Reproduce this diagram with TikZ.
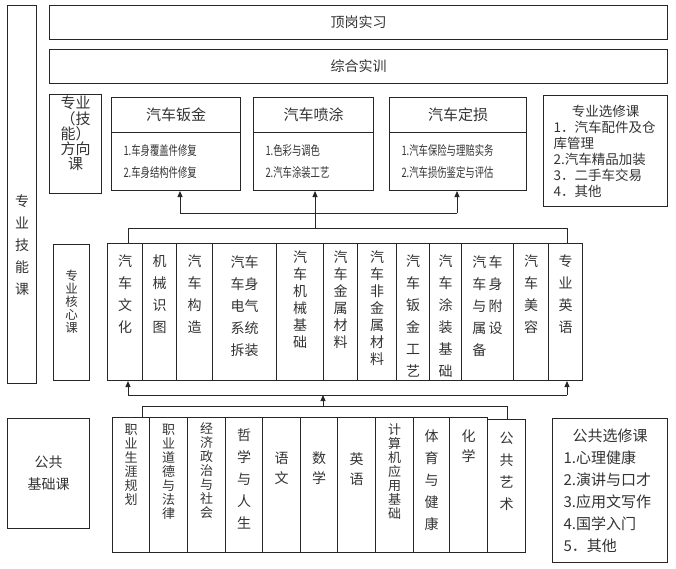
\documentclass[tikz,border=0pt]{standalone}
\usepackage{fontspec}
\setmainfont{Noto Sans CJK SC}
\newfontfamily\narrowfont{Noto Sans CJK SC}[FakeStretch=0.72]
\usetikzlibrary{arrows.meta}

\begin{document}
\begin{tikzpicture}[x=1pt, y=-1pt,
    blk/.style={draw=black!85, line width=1pt, anchor=north west, inner sep=0pt, text=black!80},
    vlbl/.style={anchor=north, inner sep=0pt, align=center, text=black!80},
    vwide/.style={vlbl, font=\fontsize{14pt}{22pt}\selectfont},
    vtwenty/.style={vlbl, font=\fontsize{14pt}{20pt}\selectfont},
    vmid/.style={vlbl, font=\fontsize{14pt}{17pt}\selectfont},
    vtight/.style={vlbl, font=\fontsize{13pt}{14pt}\selectfont},
    link/.style={draw=black!85, line width=1pt},
    arr/.style={link, -{Triangle[length=6pt,width=5pt]}}]
    \useasboundingbox (0,0) rectangle (676,568);

    % left side and top rows
    \node[blk, minimum width=29pt, minimum height=378pt, label={[vwide, yshift=-190pt]north:专\\业\\技\\能\\课}] (skill) at (7,5) {};
    \node[blk, minimum width=618pt, minimum height=34pt, font=\fontsize{14pt}{16pt}\selectfont] (intern) at (49,5) {顶岗实习};
    \node[blk, minimum width=618pt, minimum height=34pt, font=\fontsize{14pt}{16pt}\selectfont] (train) at (49,49) {综合实训};

    % direction courses
    \node[blk, minimum width=52pt, minimum height=99pt, label={[vlbl, font=\fontsize{15pt}{15.25pt}\selectfont, yshift=-2pt]north:专业\\（技\\能）\\方向\\课}] (dirc) at (49,94) {};
    \node[blk, minimum width=129pt, minimum height=35pt, font=\fontsize{15pt}{17pt}\selectfont] (bjh) at (111,97) {汽车钣金};
    \node[blk, minimum height=58pt, text width=105pt, inner xsep=12pt, align=left, font=\narrowfont\fontsize{13pt}{22pt}\selectfont] (bjb) at (111,132) {1.车身覆盖件修复\\2.车身结构件修复};
    \node[blk, minimum width=120pt, minimum height=35pt, font=\fontsize{15pt}{17pt}\selectfont] (pth) at (253,97) {汽车喷涂};
    \node[blk, minimum height=58pt, text width=96pt, inner xsep=12pt, align=left, font=\narrowfont\fontsize{13pt}{22pt}\selectfont] (ptb) at (253,132) {1.色彩与调色\\2.汽车涂装工艺};
    \node[blk, minimum width=137pt, minimum height=35pt, font=\fontsize{15pt}{17pt}\selectfont] (dsh) at (389,97) {汽车定损};
    \node[blk, minimum height=58pt, text width=113pt, inner xsep=12pt, align=left, font=\narrowfont\fontsize{13pt}{22pt}\selectfont] (dsb) at (389,132) {1.汽车保险与理赔实务\\2.汽车损伤鉴定与评估};
    \node[blk, minimum height=111pt, text width=104pt, inner xsep=10pt, align=left, font=\fontsize{13.5pt}{16pt}\selectfont] (proel) at (543,95) {\hfill{}专业选修课\hfill\null\\1．汽车配件及仓\\库管理\\2.汽车精品加装\\3．二手车交易\\4．其他};

    % core courses
    \node[blk, minimum width=36pt, minimum height=136pt, label={[vlbl, font=\fontsize{12.5pt}{13pt}\selectfont, yshift=-26pt]north:专\\业\\核\\心\\课}] (core) at (53,244) {};
    \node[blk, minimum width=35pt, minimum height=137pt, label={[vwide, yshift=-12pt]north:汽\\车\\文\\化}] (c1) at (107,243) {};
    \node[blk, minimum width=34pt, minimum height=137pt, label={[vwide, yshift=-12pt]north:机\\械\\识\\图}] (c2) at (142,243) {};
    \node[blk, minimum width=36pt, minimum height=137pt, label={[vwide, yshift=-12pt]north:汽\\车\\构\\造}] (c3) at (176,243) {};
    \node[blk, minimum width=64pt, minimum height=137pt, label={[vwide, yshift=-12pt]north:汽车\\车身\\电气\\系统\\拆装}] (c4) at (212,243) {};
    \node[blk, minimum width=47pt, minimum height=137pt, label={[vmid, yshift=-8pt]north:汽\\车\\机\\械\\基\\础}] (c5) at (276,243) {};
    \node[blk, minimum width=34pt, minimum height=137pt, label={[vmid, yshift=-8pt]north:汽\\车\\金\\属\\材\\料}] (c6) at (323,243) {};
    \node[blk, minimum width=39pt, minimum height=137pt, label={[vmid, yshift=-8pt]north:汽\\车\\非\\金\\属\\材\\料}] (c7) at (357,243) {};
    \node[blk, minimum width=33pt, minimum height=137pt, label={[vwide, yshift=-12pt]north:汽\\车\\钣\\金\\工\\艺}] (c8) at (396,243) {};
    \node[blk, minimum width=32pt, minimum height=137pt, label={[vwide, yshift=-12pt]north:汽\\车\\涂\\装\\基\\础}] (c9) at (429,243) {};
    \node[blk, minimum width=52pt, minimum height=137pt, label={[vwide, align=left, yshift=-12pt]north:汽\,车\\车\,身\\与\,附\\属\,设\\备}] (c10) at (461,243) {};
    \node[blk, minimum width=35pt, minimum height=137pt, label={[vwide, yshift=-12pt]north:汽\\车\\美\\容}] (c11) at (513,243) {};
    \node[blk, minimum width=34pt, minimum height=137pt, label={[vwide, yshift=-12pt]north:专\\业\\英\\语}] (c12) at (548,243) {};

    % public courses
    \node[blk, minimum width=82pt, minimum height=110pt, align=center, font=\fontsize{14pt}{22pt}\selectfont] (pub) at (7,418) {公共\\基础课};
    \node[blk, minimum width=37pt, minimum height=135pt, label={[vtight, yshift=-6.5pt]north:职\\业\\生\\涯\\规\\划}] (p1) at (112,417) {};
    \node[blk, minimum width=38pt, minimum height=135pt, label={[vtight, yshift=-6.5pt]north:职\\业\\道\\德\\与\\法\\律}] (p2) at (149,417) {};
    \node[blk, minimum width=38pt, minimum height=135pt, label={[vtight, yshift=-5pt]north:经\\济\\政\\治\\与\\社\\会}] (p3) at (187,417) {};
    \node[blk, minimum width=37pt, minimum height=135pt, label={[vwide, yshift=-12pt]north:哲\\学\\与\\人\\生}] (p4) at (225,417) {};
    \node[blk, minimum width=38pt, minimum height=135pt, label={[vtwenty, yshift=-35pt]north:语\\文}] (p5) at (262,417) {};
    \node[blk, minimum width=37pt, minimum height=135pt, label={[vtwenty, yshift=-35pt]north:数\\学}] (p6) at (300,417) {};
    \node[blk, minimum width=38pt, minimum height=135pt, label={[vtwenty, yshift=-36pt]north:英\\语}] (p7) at (337,417) {};
    \node[blk, minimum width=38pt, minimum height=135pt, label={[vtight, yshift=-6.5pt]north:计\\算\\机\\应\\用\\基\\础}] (p8) at (375,417) {};
    \node[blk, minimum width=36pt, minimum height=135pt, label={[vwide, yshift=-13pt]north:体\\育\\与\\健\\康}] (p9) at (413,417) {};
    \node[blk, minimum width=38pt, minimum height=135pt, label={[vtwenty, yshift=-13pt]north:化\\学}] (p10) at (449,417) {};
    \node[blk, minimum width=38pt, minimum height=133pt, label={[vwide, yshift=-13pt]north:公\\共\\艺\\术}] (p11) at (487,419) {};
    \node[blk, minimum height=144pt, text width=93pt, inner xsep=11pt, align=left, font=\fontsize{15pt}{22pt}\selectfont] (pubel) at (552,418) {\hfill{}公共选修课\hfill\null\\1.心理健康\\2.演讲与口才\\3.应用文写作\\4.国学入门\\5．其他};

    % connectors
    \coordinate (up1) at (180,213);
    \coordinate (up3) at (457,213);
    \coordinate (mid) at (315,228);
    \coordinate (cL) at (128,228);
    \coordinate (cR) at (567,228);
    \coordinate (bL) at (128,395);
    \coordinate (bR) at (567,395);
    \coordinate (pm) at (323,406);
    \coordinate (pL) at (142,406);
    \coordinate (pR) at (507,406);
    \draw[arr] (up1) -- (up1 |- bjb.south);
    \draw[link] (up1) -- (up3);
    \draw[arr] (up3) -- (up3 |- dsb.south);
    \draw[arr] (mid) -- (mid |- ptb.south);
    \draw[link] (cL |- c1.north) -- (cL) -- (cR) -- (cR |- c12.north);
    \draw[arr] (bL) -- (bL |- c1.south);
    \draw[link] (bL) -- (bR);
    \draw[arr] (bR) -- (bR |- c12.south);
    \draw[arr] (pm) -- (pm |- bL);
    \draw[link] (pL |- p1.north) -- (pL) -- (pR) -- (pR |- p11.north);
\end{tikzpicture}
\end{document}
